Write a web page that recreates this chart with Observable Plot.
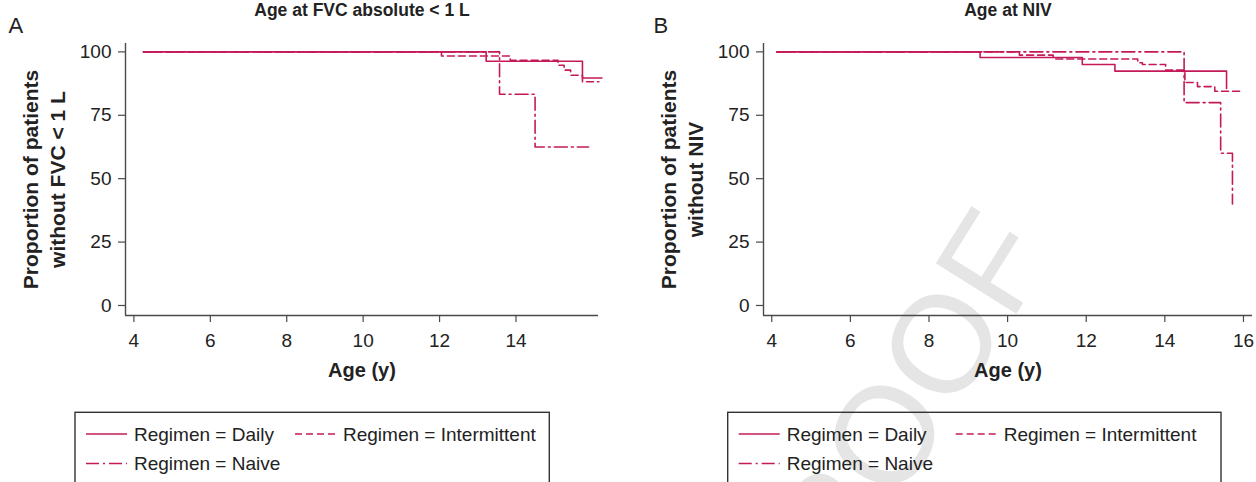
<!DOCTYPE html>
<html><head><meta charset="utf-8">
<script src="https://cdn.jsdelivr.net/npm/d3@7"></script>
<script src="https://cdn.jsdelivr.net/npm/@observablehq/plot@0.6"></script>
<style>
html,body{margin:0;padding:0;width:1256px;height:482px;overflow:hidden;background:#fff;font-family:"Liberation Sans",Arial,sans-serif;}
#wrap{position:relative;width:1256px;height:482px;overflow:hidden;}
.layer{position:absolute;top:0;}
</style></head><body><div id="wrap"></div>
<script>
// ---- data ----
const regimens = ["Daily", "Intermittent", "Naive"];

// Panel A: Age at FVC absolute < 1 L
const fvcDailyAge = [4.25, 13.22, 15.74, 16.25];
const fvcDailyPct = [100, 96.3, 89.7, 89.7];
const fvcInterAge = [4.25, 12.05, 13.85, 15.1, 15.26, 15.43, 15.74, 16.17];
const fvcInterPct = [100, 98.4, 96.7, 94.7, 92.8, 90.8, 88.2, 88.2];
const fvcNaiveAge = [4.25, 13.57, 14.5, 15.9];
const fvcNaivePct = [100, 83.3, 62.5, 62.5];

// Panel B: Age at NIV
const nivDailyAge = [4.13, 9.3, 11.9, 12.73, 15.57];
const nivDailyPct = [100, 97.8, 95.0, 92.4, 85.6];
const nivInterAge = [4.13, 10.3, 11.16, 13.31, 13.43, 14.02, 14.51, 14.83, 15.27, 16.0];
const nivInterPct = [100, 98.7, 97.2, 95.7, 95.0, 92.8, 87.9, 86.3, 84.5, 84.5];
const nivNaiveAge = [4.13, 14.49, 15.42, 15.72];
const nivNaivePct = [100, 80, 60, 40];

const yTicks = [0, 25, 50, 75, 100];
const xTicksA = [4, 6, 8, 10, 12, 14];
const xTicksB = [4, 6, 8, 10, 12, 14, 16];

// ---- styles ----
const FONT = '"Liberation Sans", Arial, Helvetica, sans-serif';
const RED = "#c41a58";
const AXIS = "#4a4a4a";
const TEXT = "#222";
const dashes = {Daily: null, Intermittent: "7,4", Naive: "13,4,2,4"};

function rowsOf(series) {
  const out = [];
  for (const [regimen, ages, pcts] of series)
    ages.forEach((a, i) => out.push({regimen, age: a, pct: pcts[i]}));
  return out;
}
const rowsA = rowsOf([["Daily", fvcDailyAge, fvcDailyPct], ["Intermittent", fvcInterAge, fvcInterPct], ["Naive", fvcNaiveAge, fvcNaivePct]]);
const rowsB = rowsOf([["Daily", nivDailyAge, nivDailyPct], ["Intermittent", nivInterAge, nivInterPct], ["Naive", nivNaiveAge, nivNaivePct]]);

const yDomain = [-3.95, 103.3];

function panel({letter, letterDx, title, ylab1, ylab2, rows, xDomain, xTicks, marginLeft, marginRight}) {
  return Plot.plot({
    width: 628, height: 400,
    marginTop: 43, marginBottom: 85, marginLeft, marginRight,
    style: {background: "transparent", fontFamily: FONT, overflow: "visible", color: TEXT},
    x: {domain: xDomain},
    y: {domain: yDomain},
    marks: [
      Plot.ruleY([yDomain[0]], {stroke: AXIS, strokeWidth: 1.4}),
      Plot.ruleX([xDomain[0]], {stroke: AXIS, strokeWidth: 1.4}),
      Plot.axisX({ticks: xTicks, tickSize: 7, tickPadding: 11, fontSize: 19, label: null, stroke: AXIS, strokeWidth: 1.2, fill: TEXT}),
      Plot.axisY({ticks: yTicks, tickSize: 7, tickPadding: 7, fontSize: 19, label: null, stroke: AXIS, strokeWidth: 1.2, fill: TEXT}),
      ...regimens.map(r => Plot.line(rows.filter(d => d.regimen === r), {
        x: "age", y: "pct", curve: "step-after", stroke: RED, strokeWidth: 1.6,
        strokeDasharray: dashes[r]
      })),
      Plot.text([title], {frameAnchor: "top", dy: -33, lineAnchor: "middle", textAnchor: "middle", fontWeight: "bold", fontSize: 17.5}),
      Plot.text([letter], {frameAnchor: "top-left", dx: letterDx, dy: -17.5, lineAnchor: "middle", textAnchor: "start", fontSize: 22}),
      Plot.text(["Age (y)"], {frameAnchor: "bottom", dy: 55, lineAnchor: "middle", textAnchor: "middle", fontWeight: "bold", fontSize: 20}),
      Plot.text([ylab1], {frameAnchor: "left", dx: -94, rotate: -90, lineAnchor: "middle", textAnchor: "middle", fontWeight: "bold", fontSize: 21}),
      Plot.text([ylab2], {frameAnchor: "left", dx: -67, rotate: -90, lineAnchor: "middle", textAnchor: "middle", fontWeight: "bold", fontSize: 21})
    ]
  });
}

const wrap = document.getElementById("wrap");

// watermark (behind)
const wm = d3.create("svg").attr("class", "layer").attr("width", 1256).attr("height", 482)
  .style("left", "0px").style("overflow", "visible");
wm.append("text").attr("transform", "translate(795,668) rotate(-58)")
  .attr("font-family", FONT).attr("font-size", 138).attr("fill", "#e5e5e5").text("PROOF");
wrap.appendChild(wm.node());

const A = panel({letter: "A", letterDx: -117, title: "Age at FVC absolute < 1 L",
  ylab1: "Proportion of patients", ylab2: "without FVC < 1 L",
  rows: rowsA, xDomain: [3.78, 16.16], xTicks: xTicksA, marginLeft: 125, marginRight: 30});
A.classList.add("layer"); A.style.left = "0px";
wrap.appendChild(A);

const B = panel({letter: "B", letterDx: -110, title: "Age at NIV",
  ylab1: "Proportion of patients", ylab2: "without NIV",
  rows: rowsB, xDomain: [3.79, 16.23], xTicks: xTicksB, marginLeft: 135, marginRight: 4});
B.classList.add("layer"); B.style.left = "628px";
wrap.appendChild(B);

// legends
const lg = d3.create("svg").attr("class", "layer").attr("width", 1256).attr("height", 482).style("left", "0px");
function legend(x0, x1, col2) {
  lg.append("rect").attr("x", x0).attr("y", 412.3).attr("width", x1 - x0).attr("height", 120)
    .attr("fill", "none").attr("stroke", "#333").attr("stroke-width", 1.4);
  const pos = [[x0 + 11, 434], [x0 + col2, 434], [x0 + 11, 463.5]];
  regimens.forEach((r, i) => {
    const [sx, cy] = pos[i];
    lg.append("line").attr("x1", sx).attr("x2", sx + 41).attr("y1", cy).attr("y2", cy)
      .attr("stroke", RED).attr("stroke-width", 1.4).attr("stroke-dasharray", dashes[r]);
    lg.append("text").attr("x", sx + 48).attr("y", cy).attr("dy", "0.35em")
      .attr("font-family", FONT).attr("font-size", 19).attr("fill", TEXT).text("Regimen = " + r);
  });
}
legend(75, 549.3, 220);
legend(727.7, 1221, 228);
wrap.appendChild(lg.node());
</script></body></html>
